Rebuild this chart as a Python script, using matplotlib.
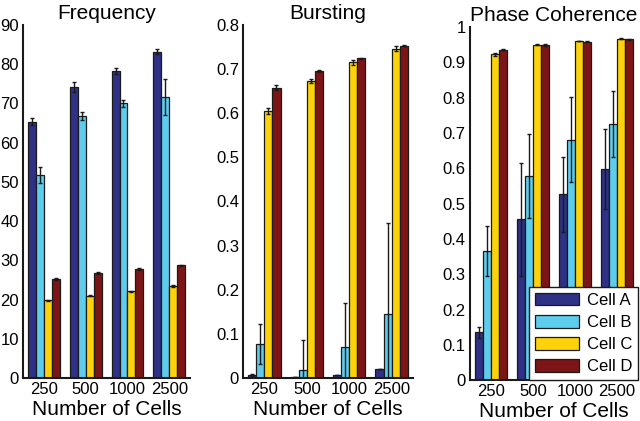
import numpy as np
import matplotlib
matplotlib.use("Agg")
import matplotlib.pyplot as plt
from matplotlib.ticker import FuncFormatter

plt.rcParams['font.family'] = ['Liberation Sans', 'DejaVu Sans']

groups = ["250", "500", "1000", "2500"]
cells = ["Cell A", "Cell B", "Cell C", "Cell D"]
colors = ["#2E3185", "#5ECCEC", "#FDD20A", "#7D1517"]

freq_mean = {
    "Cell A": [65.3, 74.2, 78.2, 83.2],
    "Cell B": [51.7, 66.8, 70.0, 71.7],
    "Cell C": [19.8, 21.0, 22.1, 23.5],
    "Cell D": [25.3, 26.8, 27.8, 28.7],
}
freq_err = {
    "Cell A": [0.9, 1.2, 0.8, 0.6],
    "Cell B": [2.1, 1.1, 0.9, 4.6],
    "Cell C": [0.2, 0.2, 0.2, 0.3],
    "Cell D": [0.2, 0.2, 0.2, 0.2],
}
burst_mean = {
    "Cell A": [0.007, 0.002, 0.008, 0.021],
    "Cell B": [0.077, 0.019, 0.070, 0.146],
    "Cell C": [0.605, 0.673, 0.715, 0.746],
    "Cell D": [0.658, 0.696, 0.724, 0.753],
}
burst_err = {
    "Cell A": [0.003, 0.0, 0.0, 0.0],
    "Cell B": [0.045, 0.068, 0.100, 0.205],
    "Cell C": [0.006, 0.005, 0.005, 0.005],
    "Cell D": [0.005, 0.002, 0.002, 0.002],
}
phase_mean = {
    "Cell A": [0.135, 0.455, 0.526, 0.597],
    "Cell B": [0.366, 0.578, 0.681, 0.725],
    "Cell C": [0.923, 0.950, 0.960, 0.967],
    "Cell D": [0.936, 0.949, 0.958, 0.965],
}
phase_err = {
    "Cell A": [0.015, 0.160, 0.106, 0.113],
    "Cell B": [0.070, 0.120, 0.121, 0.093],
    "Cell C": [0.004, 0.002, 0.001, 0.001],
    "Cell D": [0.002, 0.002, 0.001, 0.001],
}

titles = ["Frequency", "Bursting", "Phase Coherence"]
ylims = [(0, 90), (0, 0.8), (0, 1.0)]
yticks = [np.arange(0, 91, 10), np.arange(0, 0.81, 0.1), np.arange(0, 1.01, 0.1)]
positions = [
    [0.036, 0.102, 0.261, 0.839],
    [0.380, 0.102, 0.265, 0.839],
    [0.734, 0.097, 0.263, 0.839],
]
datasets = [(freq_mean, freq_err), (burst_mean, burst_err), (phase_mean, phase_err)]

fig = plt.figure(figsize=(6.4, 4.21), dpi=100)
x = np.arange(1, len(groups) + 1)
bw = 0.19
fmt = FuncFormatter(lambda v, p: ("%g" % round(v, 3)))

for i, (mean, err) in enumerate(datasets):
    ax = fig.add_axes(positions[i])
    for j, c in enumerate(cells):
        off = (j - 1.5) * bw
        ax.bar(x + off, mean[c], width=bw, color=colors[j], edgecolor="#1a1a1a",
               linewidth=0.9, label=c, zorder=2)
        ax.errorbar(x + off, mean[c], yerr=err[c], fmt="none", ecolor="#1a1a1a",
                    elinewidth=1.0, capsize=1.5, capthick=1.0, zorder=3)
    ax.set_xlim(0.5, 4.5)
    ax.set_ylim(*ylims[i])
    ax.set_yticks(yticks[i])
    ax.yaxis.set_major_formatter(fmt)
    ax.set_xticks(x)
    ax.set_xticklabels(groups)
    ax.tick_params(axis="both", length=0, labelsize=12, pad=3)
    ax.spines["top"].set_visible(False)
    ax.spines["right"].set_visible(False)
    for s in ("left", "bottom"):
        ax.spines[s].set_linewidth(1.5)
        ax.spines[s].set_color("#1a1a1a")
    ax.set_title(titles[i], fontsize=15, pad=4)
    ax.set_xlabel("Number of Cells", fontsize=15, labelpad=2)
    if i == 2:
        leg = ax.legend(loc="lower right", bbox_to_anchor=(1.0, 0.0), fontsize=12,
                        fancybox=False, framealpha=1, edgecolor="#1a1a1a",
                        handlelength=2.6, handleheight=0.8, labelspacing=0.42,
                        borderpad=0.35, handletextpad=0.5, borderaxespad=0.0)
        leg.get_frame().set_linewidth(1.0)
        leg.set_zorder(5)

fig.savefig("out.png", dpi=100)
